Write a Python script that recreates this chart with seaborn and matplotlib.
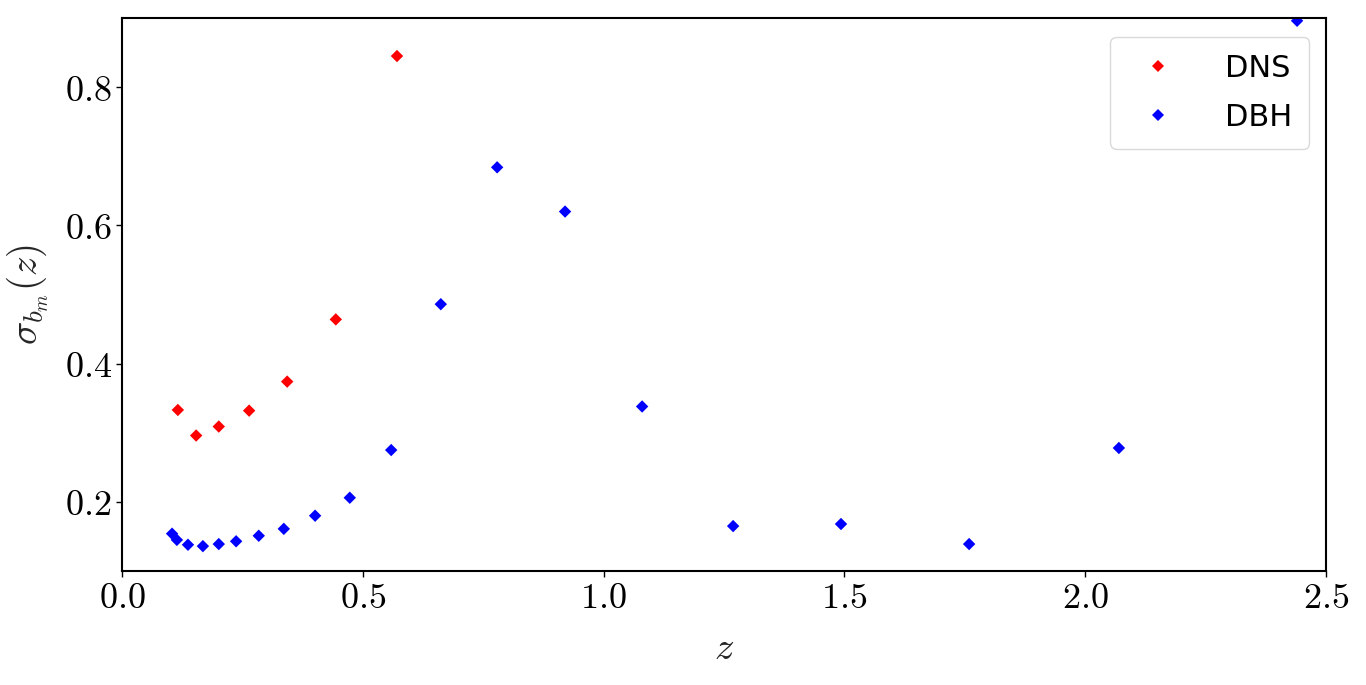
import numpy as np
import pandas as pd
import matplotlib
matplotlib.use("Agg")
import matplotlib.pyplot as plt
from matplotlib.ticker import FuncFormatter
import seaborn as sns

dns_z = [0.116, 0.154, 0.201, 0.264, 0.343, 0.444, 0.571]
dns_sigma = [0.333, 0.296, 0.309, 0.332, 0.374, 0.464, 0.845]

dbh_z = [0.104, 0.114, 0.137, 0.168, 0.201, 0.237, 0.284, 0.336, 0.401, 0.473,
         0.559, 0.662, 0.779, 0.920, 1.080, 1.269, 1.493, 1.759, 2.070, 2.440]
dbh_sigma = [0.154, 0.145, 0.138, 0.136, 0.139, 0.143, 0.151, 0.161, 0.180, 0.206,
             0.275, 0.486, 0.684, 0.620, 0.338, 0.165, 0.168, 0.139, 0.278, 0.896]

df = pd.concat([
    pd.DataFrame({"z": dns_z, "sigma": dns_sigma, "sample": "DNS"}),
    pd.DataFrame({"z": dbh_z, "sigma": dbh_sigma, "sample": "DBH"}),
])

sns.set_theme(style="ticks")
plt.rcParams["font.family"] = ["DejaVu Sans"]
plt.rcParams["mathtext.fontset"] = "cm"
plt.rcParams["axes.linewidth"] = 1.5
plt.rcParams["text.color"] = "black"

fig = plt.figure(figsize=(13.66, 6.85), dpi=100)
ax = fig.add_axes([0.0893, 0.1664, 0.8814, 0.8073])

sns.scatterplot(data=df, x="z", y="sigma", hue="sample",
                palette={"DNS": "red", "DBH": "blue"},
                marker="D", s=40, linewidth=0, ax=ax)

ax.set_xlim(0, 2.5)
ax.set_ylim(0.1, 0.9)
ax.set_xticks([0.0, 0.5, 1.0, 1.5, 2.0, 2.5])
ax.set_yticks([0.2, 0.4, 0.6, 0.8])
fmt = FuncFormatter(lambda v, p: r"$%.1f$" % v)
ax.xaxis.set_major_formatter(fmt)
ax.yaxis.set_major_formatter(fmt)
ax.tick_params(labelsize=26, width=1, length=4, colors="black")
for sp in ax.spines.values():
    sp.set_color("black")

ax.set_xlabel(r"$z$", fontsize=28, labelpad=10)
ax.set_ylabel(r"$\sigma_{b_m}(z)$", fontsize=28, labelpad=10)

leg = ax.legend(loc="upper right", fontsize=22, frameon=True,
                handletextpad=1.2, borderpad=0.55, labelspacing=0.65,
                markerscale=1.0, borderaxespad=0,
                bbox_to_anchor=(0.986, 0.9656))
leg.get_frame().set_edgecolor("#d0d0d0")
for t in leg.get_texts():
    t.set_color("black")

fig.savefig("out.png", dpi=100)
